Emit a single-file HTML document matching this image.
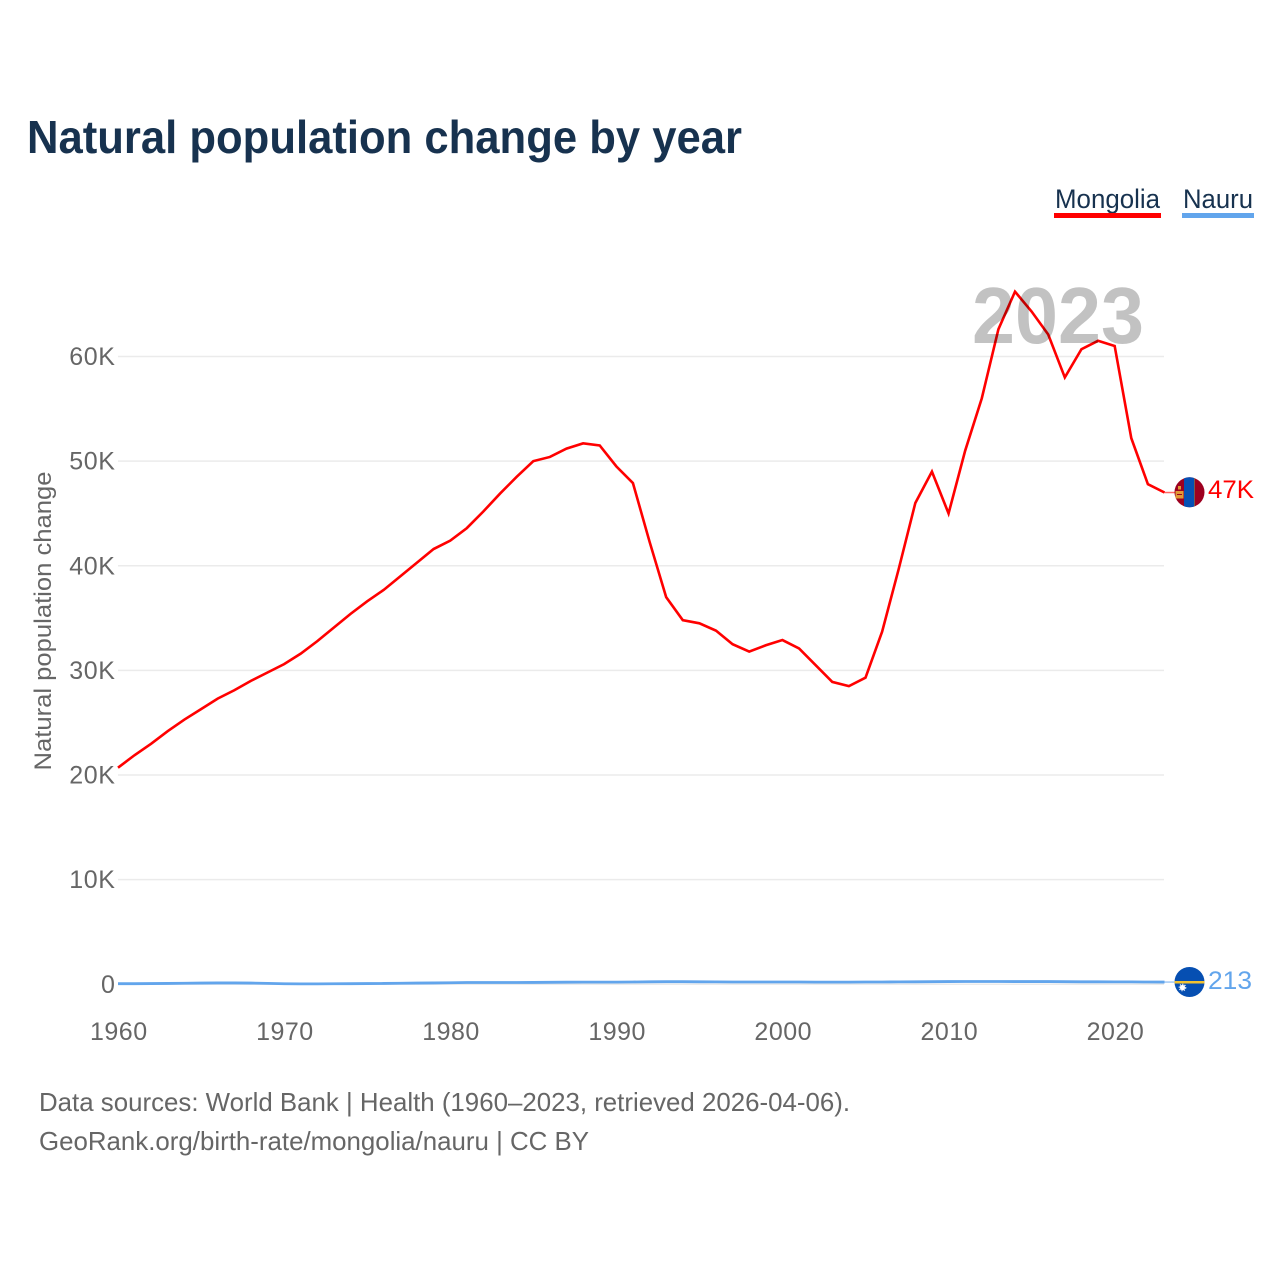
<!DOCTYPE html>
<html lang="en">
<head>
<meta charset="utf-8">
<title>Natural population change by year</title>
<style>
html,body{margin:0;padding:0;background:#fff;}
svg{display:block;font-family:"Liberation Sans",sans-serif;}
</style>
</head>
<body>
<svg id="chart" width="1280" height="1280" viewBox="0 0 1280 1280" xmlns="http://www.w3.org/2000/svg">
  <text x="27" y="153" font-size="46" font-weight="700" fill="#17324f" textLength="715" lengthAdjust="spacingAndGlyphs">Natural population change by year</text>

  <g>
    <g>
      <text x="1055" y="208" font-size="26.5" fill="#17324f" textLength="105" lengthAdjust="spacingAndGlyphs">Mongolia</text>
      <rect x="1054" y="213" width="107" height="5" fill="#ff0000"/>
    </g>
    <g>
      <text x="1183" y="208" font-size="26.5" fill="#17324f" textLength="70" lengthAdjust="spacingAndGlyphs">Nauru</text>
      <rect x="1182" y="213" width="72" height="5" fill="#62a5ec"/>
    </g>
  </g>

  <g id="grid"></g>
  <g id="yticks"></g>
  <g id="xticks"></g>

  <text transform="translate(51,621) rotate(-90)" text-anchor="middle" font-size="24" fill="#666666" textLength="299" lengthAdjust="spacingAndGlyphs">Natural population change</text>

  <g id="series"></g>

  <text x="972" y="343" font-size="80" font-weight="700" fill="#000000" fill-opacity="0.24" textLength="172" lengthAdjust="spacingAndGlyphs">2023</text>

  <g id="ends"></g>

  <g>
    <clipPath id="clipMn"><circle cx="1189.5" cy="492.3" r="15"/></clipPath>
    <g clip-path="url(#clipMn)">
      <rect x="1174" y="476" width="32" height="32" fill="#9d0020"/>
      <rect x="1184" y="476" width="10" height="32" fill="#0650b4"/>
      <rect x="1194" y="476" width="1" height="32" fill="#7a5a50"/>
      <rect x="1175.5" y="491" width="8" height="7.5" fill="#e09a35"/>
      <rect x="1178" y="486" width="3" height="3.5" fill="#e09a35"/>
      <rect x="1177" y="494" width="5" height="1" fill="#9d0020"/>
    </g>
  </g>
  <g>
    <clipPath id="clipNr"><circle cx="1189.5" cy="982" r="15"/></clipPath>
    <g clip-path="url(#clipNr)">
      <rect x="1174" y="966" width="32" height="32" fill="#064fb2"/>
      <rect x="1174" y="981" width="32" height="2.5" fill="#f2c230"/>
      <circle cx="1182.5" cy="987.5" r="2.6" fill="#ffffff"/>
      <circle cx="1182.5" cy="987.5" r="3.2" fill="none" stroke="#ffffff" stroke-width="1.2" stroke-dasharray="1.2 1.2"/>
    </g>
  </g>

  <text x="1208" y="498" font-size="25" fill="#ff0000" textLength="46" lengthAdjust="spacingAndGlyphs">47K</text>
  <text x="1208" y="989" font-size="25" fill="#62a5ec" textLength="44" lengthAdjust="spacingAndGlyphs">213</text>

  <text x="39" y="1111" font-size="26" fill="#666666" textLength="811" lengthAdjust="spacingAndGlyphs">Data sources: World Bank | Health (1960–2023, retrieved 2026-04-06).</text>
  <text x="39" y="1150" font-size="26" fill="#666666" textLength="550" lengthAdjust="spacingAndGlyphs">GeoRank.org/birth-rate/mongolia/nauru | CC BY</text>
</svg>
<script>
var years = [1960,1961,1962,1963,1964,1965,1966,1967,1968,1969,1970,1971,1972,1973,1974,1975,1976,1977,1978,1979,1980,1981,1982,1983,1984,1985,1986,1987,1988,1989,1990,1991,1992,1993,1994,1995,1996,1997,1998,1999,2000,2001,2002,2003,2004,2005,2006,2007,2008,2009,2010,2011,2012,2013,2014,2015,2016,2017,2018,2019,2020,2021,2022,2023];
var mongolia = [20700,21900,23000,24200,25300,26300,27300,28100,29000,29800,30600,31600,32800,34100,35400,36600,37700,39000,40300,41600,42400,43600,45200,46900,48500,50000,50400,51200,51700,51500,49500,47900,42300,37000,34800,34500,33800,32500,31800,32400,32900,32100,30500,28900,28500,29300,33700,39700,46000,49000,45000,51000,56000,62600,66200,64300,62100,58000,60700,61500,61000,52200,47800,47000];
var nauru = [60,60,70,80,100,120,130,130,120,90,50,40,40,50,60,70,80,100,120,130,150,170,170,170,170,180,190,200,210,210,210,220,240,250,250,240,230,220,220,220,220,220,210,210,210,220,220,230,240,250,260,270,270,270,260,260,260,250,240,240,230,230,220,213];
var yTickValues = [0,10000,20000,30000,40000,50000,60000];
var yTickLabels = ["0","10K","20K","30K","40K","50K","60K"];
var xTickValues = [1960,1970,1980,1990,2000,2010,2020];

var NS = "http://www.w3.org/2000/svg";
function xScale(year){ return 118 + (year - 1960) * (1164.5 - 118) / 63; }
function yScale(value){ return 984.3 - value * (984.3 - 356.5) / 60000; }

function make(tag, attrs, parent){
  var el = document.createElementNS(NS, tag);
  for (var k in attrs) { el.setAttribute(k, attrs[k]); }
  parent.appendChild(el);
  return el;
}
function pathFrom(values){
  return values.map(function(v, i){
    return (i ? "L" : "M") + xScale(years[i]).toFixed(2) + " " + yScale(v).toFixed(2);
  }).join(" ");
}

var grid = document.getElementById("grid");
var yticks = document.getElementById("yticks");
var xticks = document.getElementById("xticks");
var seriesGroup = document.getElementById("series");
var ends = document.getElementById("ends");

yTickValues.forEach(function(v, i){
  var line = make("line", {x1:118, x2:1164, y1:yScale(v), y2:yScale(v), stroke:"#ebebeb", "stroke-width":1.5}, grid);
  
  
  var label = make("text", {x:115.5, y:yScale(v) + 8.5, "text-anchor":"end", "font-size":25, "letter-spacing":0.6, fill:"#666666"}, yticks);
  label.textContent = yTickLabels[i];
  
  
});

xTickValues.forEach(function(year){
  var label = make("text", {x:xScale(year) + 0.8, y:1040, "text-anchor":"middle", "font-size":25, "letter-spacing":0.5, fill:"#666666"}, xticks);
  label.textContent = String(year);
  
  
});

var lineMongolia = make("path", {d:pathFrom(mongolia), fill:"none", stroke:"#ff0000", "stroke-width":2.6, "stroke-linejoin":"miter"}, seriesGroup);



var lineNauru = make("path", {d:pathFrom(nauru), fill:"none", stroke:"#62a5ec", "stroke-width":2.8}, seriesGroup);



var lastX = xScale(years[years.length - 1]);
var connectorM = make("line", {x1:lastX, x2:1176, y1:yScale(mongolia[mongolia.length - 1]), y2:yScale(mongolia[mongolia.length - 1]), stroke:"#ff0000", "stroke-opacity":0.6, "stroke-width":1.5}, ends);



var connectorN = make("line", {x1:lastX, x2:1176, y1:yScale(nauru[nauru.length - 1]), y2:yScale(nauru[nauru.length - 1]), stroke:"#62a5ec", "stroke-opacity":0.6, "stroke-width":1.5}, ends);


</script>
</body>
</html>
